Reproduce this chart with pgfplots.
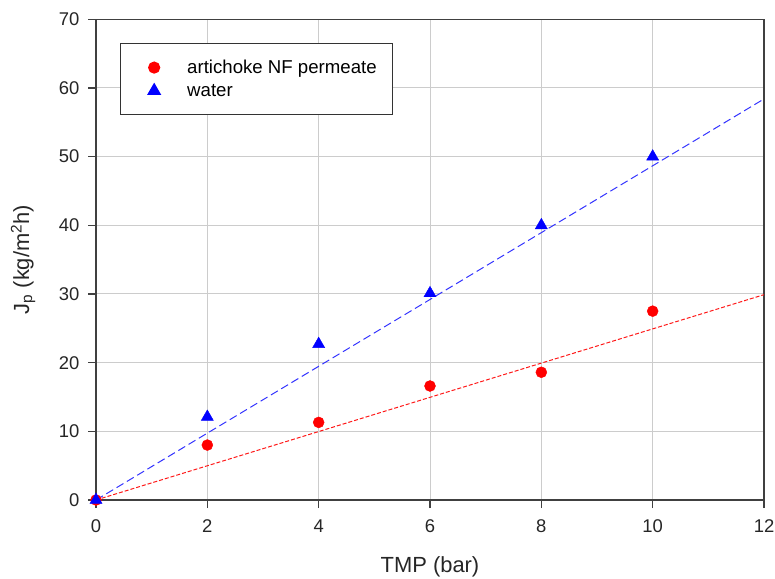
\documentclass[border=0pt]{standalone}
\usepackage{fontspec}
\setmainfont{Liberation Sans}
\usepackage{pgfplots}
\pgfplotsset{compat=1.18}
\begin{document}
\begin{tikzpicture}[x=1bp,y=1bp]
\begin{axis}[
name=ax,
scale only axis,width=668bp,height=480.7bp,
xmin=0,xmax=12,ymin=0,ymax=70,
xtick={0,2,...,12},ytick={0,10,...,70},
grid=major,grid style={gray!40,line width=1pt},
axis line style={black!75,line width=1.3pt},
tick style={black!75,line width=1.3pt},
tick align=outside,major tick length=8bp,
xtick pos=bottom,ytick pos=left,
/pgf/number format/assume math mode=true,
tick label style={font=\fontsize{18.5}{18.5}\selectfont,text=black!85},
xticklabel style={yshift=-8bp},
yticklabel style={xshift=-5bp},
label style={font=\fontsize{22}{22}\selectfont,text=black!85},
xlabel={TMP (bar)},
ylabel={J\textsubscript{p} (kg/m\textsuperscript{2}h)},
xlabel style={at={(axis description cs:0.5,-0.1515)},anchor=base},
ylabel style={at={(axis description cs:-0.1003,0.5)},anchor=base},
legend cell align=left,
legend style={at={(axis description cs:0.0359,0.9507)},anchor=north west,
 draw=black!80,line width=1.2pt,font=\fontsize{18.7}{18.7}\selectfont,
 inner xsep=0bp,inner ysep=14.5bp,row sep=5bp},
legend image code/.code={\path (0bp,0bp); \draw[#1] plot coordinates {(33bp,0bp)};},
]
\addplot[only marks,mark=*,mark size=5.5bp,color=red,draw=red,fill=red]
coordinates {(0,0) (2,8) (4,11.3) (6,16.6) (8,18.6) (10,27.5)};
\addlegendentry{\hspace{25bp}artichoke NF permeate\hspace{14bp}\mbox{}}
\addplot[only marks,mark=triangle*,mark size=7bp,color=blue,draw=blue,fill=blue]
coordinates {(0,0) (2,12.1) (4,22.7) (6,30.1) (8,40) (10,50)};
\addlegendentry{\hspace{25bp}water}
\addplot[red!90,line width=1pt,dash pattern=on 4bp off 2bp,forget plot]
coordinates {(0,0) (12,29.9)};
\addplot[blue!80,line width=1pt,dash pattern=on 8bp off 4bp,forget plot]
coordinates {(0,0) (12,58.4)};
\end{axis}
\pgfresetboundingbox
\path (ax.south west) ++(-96bp,-79bp) rectangle ++(775bp,579bp);
\end{tikzpicture}
\end{document}
